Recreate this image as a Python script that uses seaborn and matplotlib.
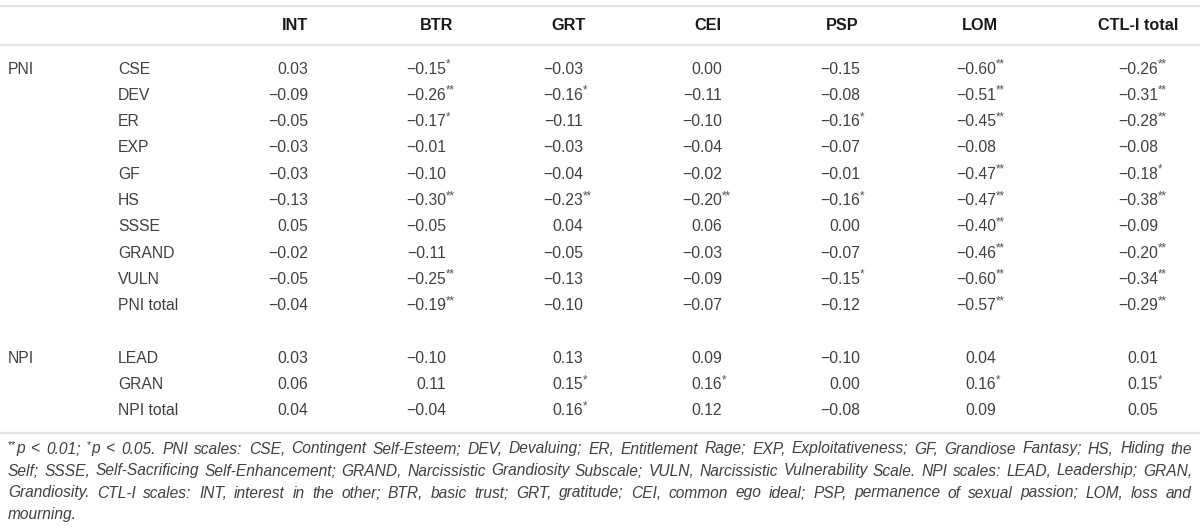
import matplotlib
matplotlib.use("Agg")
import matplotlib.pyplot as plt
from matplotlib import font_manager as fm
import numpy as np
import pandas as pd
import seaborn as sns

# table content
columns = ["INT", "BTR", "GRT", "CEI", "PSP", "LOM", "CTL-I total"]
groups = ["PNI", "NPI"]
pni_rows = ["CSE", "DEV", "ER", "EXP", "GF", "HS", "SSSE", "GRAND", "VULN", "PNI total"]
npi_rows = ["LEAD", "GRAN", "NPI total"]

int_r = [0.03, -0.09, -0.05, -0.03, -0.03, -0.13, 0.05, -0.02, -0.05, -0.04, 0.03, 0.06, 0.04]
btr_r = [-0.15, -0.26, -0.17, -0.01, -0.10, -0.30, -0.05, -0.11, -0.25, -0.19, -0.10, 0.11, -0.04]
grt_r = [-0.03, -0.16, -0.11, -0.03, -0.04, -0.23, 0.04, -0.05, -0.13, -0.10, 0.13, 0.15, 0.16]
cei_r = [0.00, -0.11, -0.10, -0.04, -0.02, -0.20, 0.06, -0.03, -0.09, -0.07, 0.09, 0.16, 0.12]
psp_r = [-0.15, -0.08, -0.16, -0.07, -0.01, -0.16, 0.00, -0.07, -0.15, -0.12, -0.10, 0.00, -0.08]
lom_r = [-0.60, -0.51, -0.45, -0.08, -0.47, -0.47, -0.40, -0.46, -0.60, -0.57, 0.04, 0.16, 0.09]
ctl_r = [-0.26, -0.31, -0.28, -0.08, -0.18, -0.38, -0.09, -0.20, -0.34, -0.29, 0.01, 0.15, 0.05]

# significance stars (number of *)
int_sig = [0, 0, 0, 0, 0, 0, 0, 0, 0, 0, 0, 0, 0]
btr_sig = [1, 2, 1, 0, 0, 2, 0, 0, 2, 2, 0, 0, 0]
grt_sig = [0, 1, 0, 0, 0, 2, 0, 0, 0, 0, 0, 1, 1]
cei_sig = [0, 0, 0, 0, 0, 2, 0, 0, 0, 0, 0, 1, 0]
psp_sig = [0, 0, 1, 0, 0, 1, 0, 0, 1, 0, 0, 0, 0]
lom_sig = [2, 2, 2, 0, 2, 2, 2, 2, 2, 2, 0, 1, 0]
ctl_sig = [2, 2, 2, 0, 1, 2, 0, 2, 2, 2, 0, 1, 0]

footnote = [
    "**p < 0.01; *p < 0.05. PNI scales: CSE, Contingent Self-Esteem; DEV, Devaluing; ER, Entitlement Rage; EXP, Exploitativeness; GF, Grandiose Fantasy; HS, Hiding the",
    "Self; SSSE, Self-Sacrificing Self-Enhancement; GRAND, Narcissistic Grandiosity Subscale; VULN, Narcissistic Vulnerability Scale. NPI scales: LEAD, Leadership; GRAN,",
    "Grandiosity. CTL-I scales: INT, interest in the other; BTR, basic trust; GRT, gratitude; CEI, common ego ideal; PSP, permanence of sexual passion; LOM, loss and",
    "mourning.",
]

rows = pni_rows + npi_rows
vals = pd.DataFrame(dict(zip(columns, [int_r, btr_r, grt_r, cei_r, psp_r, lom_r, ctl_r])), index=rows)
sigs = pd.DataFrame(dict(zip(columns, [int_sig, btr_sig, grt_sig, cei_sig, psp_sig, lom_sig, ctl_sig])), index=rows)

sns.set_theme(style="white")
plt.rcParams['font.family'] = ['Liberation Sans', 'DejaVu Sans']

installed = {f.name for f in fm.fontManager.ttflist}
foot_family = 'Liberation Sans Narrow' if 'Liberation Sans Narrow' in installed else 'Liberation Sans'

fig = plt.figure(figsize=(12, 5.27), dpi=100)
ax = fig.add_axes([0, 0, 1, 1])
ax.set_xlim(0, 1200)
ax.set_ylim(527, 0)
ax.axis('off')

body = '#404040'
fs = 11.3
line_col = '#e3e3e3'

# horizontal rules
ax.hlines([6, 45, 433], 0, 1200, color=line_col, lw=1.6)

# layout
head_x = [295, 437, 568, 708, 842, 980, 1138]
num_x = [308, 446, 583, 722, 860, 996, 1158]
row_slot = list(range(len(pni_rows))) + [len(pni_rows) + 1 + i for i in range(len(npi_rows))]
row_y = [69 + 26.3 * s for s in row_slot]

for c, hx in zip(columns, head_x):
    ax.text(hx, 25, c, ha='center', va='center', fontsize=11.7, fontweight='bold', color='#1a1a1a')

ax.text(8, row_y[0], groups[0], ha='left', va='center', fontsize=fs, color=body)
ax.text(8, row_y[len(pni_rows)], groups[1], ha='left', va='center', fontsize=fs, color=body)

for r, y in zip(rows, row_y):
    ax.text(118, y, r, ha='left', va='center', fontsize=fs, color=body)
    for c, nx in zip(columns, num_x):
        v = vals.loc[r, c]
        s = f"{abs(v):.2f}"
        if v < 0:
            s = "\u2212" + s
        ax.text(nx, y, s, ha='right', va='center', fontsize=fs, color=body)
        n = sigs.loc[r, c]
        if n:
            ax.text(nx + 0.3, y - 4.5, "*" * n, ha='left', va='center', fontsize=8.3, color='#555555')

# footnote, justified
fig.canvas.draw()
renderer = fig.canvas.get_renderer()


def width(txt, size, italic=True):
    prop = fm.FontProperties(family=[foot_family, 'DejaVu Sans'], size=size,
                             style='italic' if italic else 'normal')
    w, h, d = renderer.get_text_width_height_descent(txt, prop, ismath=False)
    return w


def word_parts(w):
    rest = w.lstrip('*')
    return w[:len(w) - len(rest)], rest


left, right = 8, 1192

# footnote size so that the widest line just fits with ordinary spaces
base = 10.0
nat = [width(line.replace('*', ''), base) for line in footnote[:-1]]
ffs = min(13.5, base * (right - left) / max(nat) * 0.99)
sfs = ffs * 0.68

fkw = dict(fontsize=ffs, style='italic', color='#404040', va='center', family=[foot_family, 'DejaVu Sans'])
skw = dict(fontsize=sfs, color='#404040', va='center', family=[foot_family, 'DejaVu Sans'])

foot_y = [449, 471, 493, 515]
for i, (line, y) in enumerate(zip(footnote, foot_y)):
    words = line.split(' ')
    ws = []
    for w in words:
        st, rest = word_parts(w)
        ws.append((width(st, sfs, False) if st else 0) + width(rest, ffs))
    last = i == len(footnote) - 1
    if last or len(words) == 1:
        gap = width('a b', ffs) - width('ab', ffs)
    else:
        gap = (right - left - sum(ws)) / (len(words) - 1)
    x = left
    for w in words:
        st, rest = word_parts(w)
        if st:
            ax.text(x, y - 4, st, ha='left', **skw)
            x += width(st, sfs, False)
        ax.text(x, y, rest, ha='left', **fkw)
        x += width(rest, ffs) + gap

fig.savefig('out.png', dpi=100)
